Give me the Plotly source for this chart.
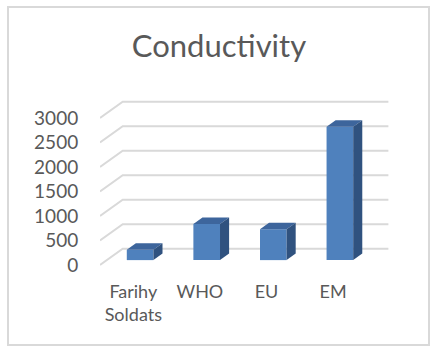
import plotly.graph_objects as go

categories = ["Farihy<br>Soldats", "WHO", "EU", "EM"]
values = [210, 735, 630, 2720]
tick_values = [0, 500, 1000, 1500, 2000, 2500, 3000]
title_text = "Conductivity"

# oblique projection: full depth shift in data units
DX, DY = 0.341, 333.0
BAR_D0, BAR_D1 = 0.3, 0.7
BAR_W = 0.4
FRONT = "#4f81bd"
TOP = "#3d659c"
SIDE = "#30527f"
GRID = "#d9d9d9"
TEXT = "#595959"

fig = go.Figure()

# back wall gridlines + floor/side diagonals
x_left, x_right = -0.5, 3.49
for t in tick_values:
    fig.add_trace(go.Scatter(
        x=[x_left, x_left + DX, x_right + DX],
        y=[t, t + DY, t + DY],
        mode="lines", line=dict(color=GRID, width=2),
        hoverinfo="skip", showlegend=False))

xs = list(range(len(categories)))
bx0 = BAR_D0 * DX
by0 = BAR_D0 * DY
ddx = (BAR_D1 - BAR_D0) * DX
ddy = (BAR_D1 - BAR_D0) * DY

for x, v in zip(xs, values):
    x0 = x + bx0 - BAR_W / 2
    x1 = x + bx0 + BAR_W / 2
    top = v + by0
    # front face
    fig.add_trace(go.Scatter(
        x=[x0, x1, x1, x0, x0],
        y=[by0, by0, top, top, by0],
        fill="toself", fillcolor=FRONT, mode="lines",
        line=dict(width=0, color=FRONT), hoverinfo="skip", showlegend=False))
    # top face
    fig.add_trace(go.Scatter(
        x=[x0, x1, x1 + ddx, x0 + ddx, x0],
        y=[top, top, top + ddy, top + ddy, top],
        fill="toself", fillcolor=TOP, mode="lines",
        line=dict(width=0, color=TOP), hoverinfo="skip", showlegend=False))
    # side face
    fig.add_trace(go.Scatter(
        x=[x1, x1, x1 + ddx, x1 + ddx, x1],
        y=[by0, top, top + ddy, by0 + ddy, by0],
        fill="toself", fillcolor=SIDE, mode="lines",
        line=dict(width=0, color=SIDE), hoverinfo="skip", showlegend=False))

fig.update_layout(
    width=435, height=351,
    margin=dict(l=100, r=46, t=95, b=81, autoexpand=False),
    paper_bgcolor="white", plot_bgcolor="white",
    font=dict(family="Lato, Carlito, Calibri, sans-serif", color=TEXT),
    title=dict(text=title_text, x=219 / 435, xanchor="center",
               y=1 - 46 / 351, yanchor="middle", yref="container",
               font=dict(size=31, color=TEXT)),
    xaxis=dict(range=[-0.5, 3.84], tickvals=xs, ticktext=categories,
               showgrid=False, zeroline=False, showline=False,
               ticks="outside", ticklen=5, tickcolor="rgba(0,0,0,0)",
               tickfont=dict(size=18, color=TEXT), fixedrange=True),
    yaxis=dict(range=[-102, 3469], tickvals=tick_values,
               showgrid=False, zeroline=False, showline=False,
               ticks="outside", ticklen=17, tickcolor="rgba(0,0,0,0)",
               tickfont=dict(size=19, color=TEXT), fixedrange=True),
    shapes=[dict(type="rect", xref="paper", yref="paper",
                 x0=-92 / 289, x1=(429 - 100) / 289,
                 y0=(270 - 345) / 175, y1=(270 - 7) / 175,
                 line=dict(color=GRID, width=2), fillcolor="rgba(0,0,0,0)",
                 layer="below")],
)

fig.write_html("out.html", config={"displayModeBar": False},
               post_script="document.body.style.margin='0';")
